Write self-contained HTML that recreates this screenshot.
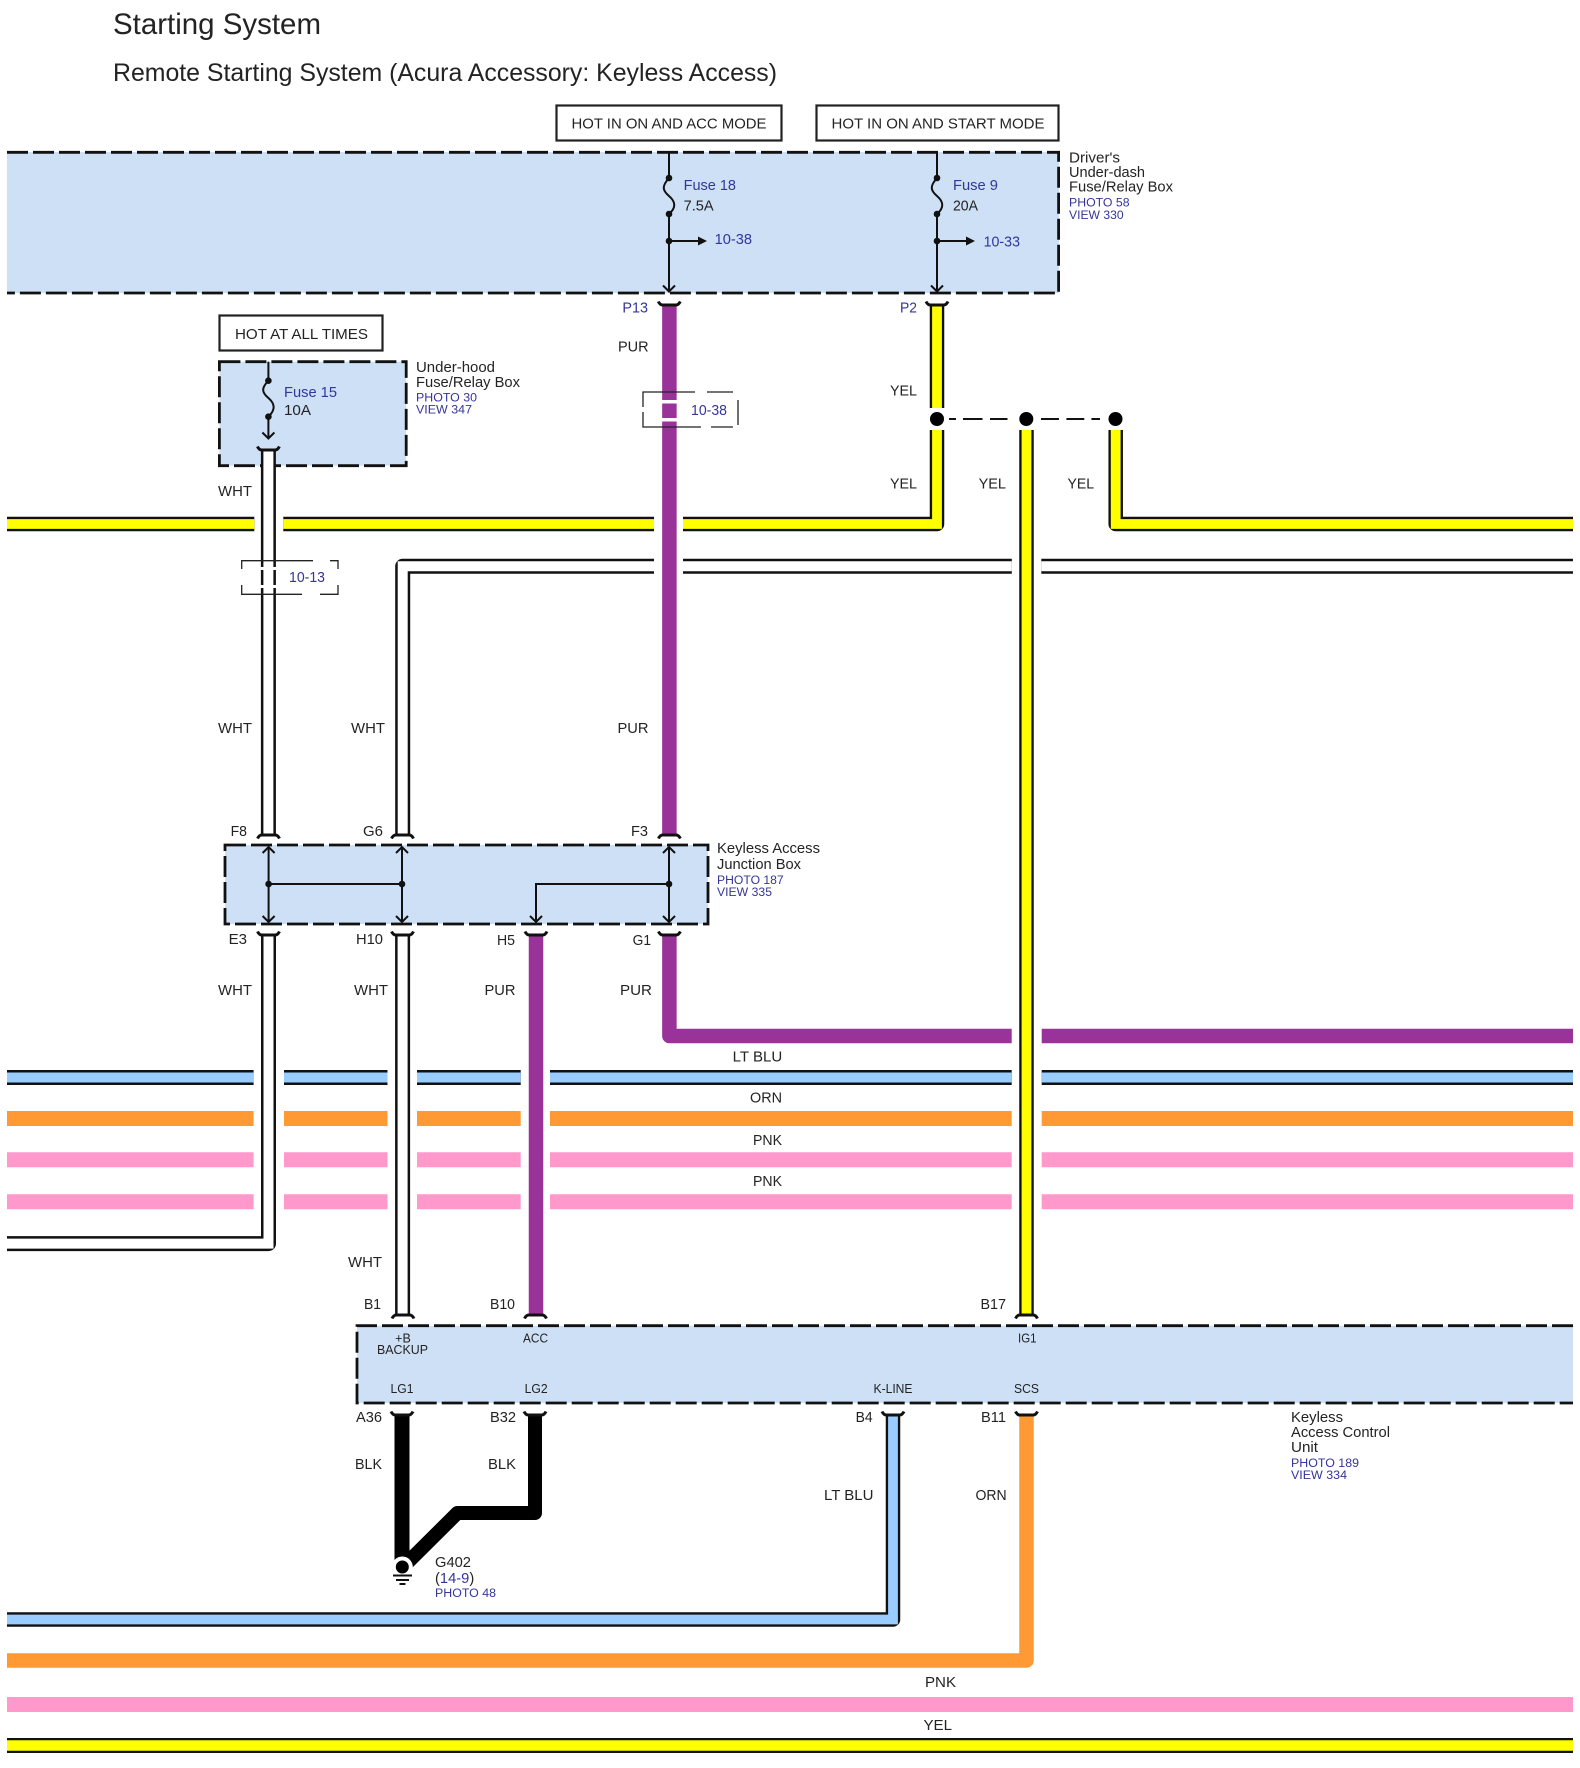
<!DOCTYPE html>
<html><head><meta charset="utf-8"><title>Starting System</title>
<style>
html,body{margin:0;padding:0;background:#fff}
svg{display:block}
text{font-family:"Liberation Sans",Arial,sans-serif;fill:#232323;font-size:14.7px}
.b{fill:#35359b}
.s{font-size:12.3px}
.m{font-size:12.5px}
.w{fill:none;stroke-linejoin:round}
.d{fill:none;stroke:#111;stroke-width:2.8;stroke-dasharray:21 5}
.l{fill:none;stroke:#111;stroke-width:2}
.br{fill:none;stroke:#222;stroke-width:1.3}
.bx{fill:#fff;stroke:#222;stroke-width:2.2}
</style></head><body>
<svg xmlns="http://www.w3.org/2000/svg" width="1580" height="1768" viewBox="0 0 1580 1768">
<defs>
<path id="arch" d="M-11 3.5Q-9 -0.5 -6 0H6Q9 -0.5 11 3.5" fill="none" stroke="#111" stroke-width="3"/>
<path id="smile" d="M-11 -3.5Q-9 0.5 -6 0H6Q9 0.5 11 -3.5" fill="none" stroke="#111" stroke-width="3"/>
</defs>
<rect width="1580" height="1768" fill="#fff"/>

<!-- titles -->
<text x="113" y="34" style="font-size:30px" textLength="208" lengthAdjust="spacingAndGlyphs">Starting System</text>
<text x="113" y="81" style="font-size:24.7px" textLength="664" lengthAdjust="spacingAndGlyphs">Remote Starting System (Acura Accessory: Keyless Access)</text>

<!-- hot boxes -->
<rect class="bx" x="556.5" y="105.5" width="225" height="35"/>
<rect class="bx" x="816.5" y="105.5" width="242" height="35"/>
<rect class="bx" x="219.5" y="315.5" width="163" height="35"/>
<text x="571.5" y="128.5" textLength="195" lengthAdjust="spacingAndGlyphs">HOT IN ON AND ACC MODE</text>
<text x="831.5" y="128.5" textLength="213" lengthAdjust="spacingAndGlyphs">HOT IN ON AND START MODE</text>
<text x="235" y="339" textLength="133" lengthAdjust="spacingAndGlyphs">HOT AT ALL TIMES</text>

<!-- component boxes -->
<rect x="7" y="152" width="1052" height="141" fill="#cde0f5"/>
<path class="d" d="M7 152.3H1058.6V293H7"/>
<rect x="219.4" y="361.7" width="186.8" height="104" fill="#cde0f5"/>
<rect class="d" x="219.4" y="361.7" width="186.8" height="104"/>
<rect x="225" y="845" width="483" height="79" fill="#cde0f5"/>
<rect class="d" x="225" y="845" width="483" height="79"/>
<rect x="357" y="1325.7" width="1216" height="77.3" fill="#cde0f5"/>
<path class="d" d="M1573 1325.7H357V1403H1573"/>

<!-- horizontal bus: LT BLU -->
<g class="w" stroke="#111" stroke-width="15">
<path d="M7 1077.5H253.6M284 1077.5H387.5M417 1077.5H520.7M550 1077.5H1011.7M1041.7 1077.5H1573"/>
</g>
<g class="w" stroke="#99ccff" stroke-width="10">
<path d="M7 1077.5H253.6M284 1077.5H387.5M417 1077.5H520.7M550 1077.5H1011.7M1041.7 1077.5H1573"/>
</g>
<path class="w" stroke="#ff9933" stroke-width="15" d="M7 1118.5H253.6M284 1118.5H387.5M417 1118.5H520.7M550 1118.5H1011.7M1041.7 1118.5H1573"/>
<path class="w" stroke="#ff99cc" stroke-width="15" d="M7 1159.8H253.6M284 1159.8H387.5M417 1159.8H520.7M550 1159.8H1011.7M1041.7 1159.8H1573"/>
<path class="w" stroke="#ff99cc" stroke-width="15" d="M7 1201.7H253.6M284 1201.7H387.5M417 1201.7H520.7M550 1201.7H1011.7M1041.7 1201.7H1573"/>
<path class="w" stroke="#ff99cc" stroke-width="15" d="M7 1704.5H1573"/>
<path class="w" stroke="#111" stroke-width="15" d="M7 1745.5H1573"/>
<path class="w" stroke="#ffff00" stroke-width="10.5" d="M7 1745.5H1573"/>

<!-- yellow wires -->
<path class="w" stroke="#111" stroke-width="14.5" d="M937 305V408M937 430V524H683M654 524H283.3M254.3 524H7M1026.5 430V1315M1115.7 430V524H1573"/>
<path class="w" stroke="#ffff00" stroke-width="9.8" style="stroke-linejoin:miter" d="M937 305V408M937 430V524H683M654 524H283.3M254.3 524H7M1026.5 430V1315M1115.7 430V524H1573"/>

<!-- white wires -->
<path class="w" stroke="#111" stroke-width="15" d="M1573 566.3H1041.3M1011.8 566.3H683M654 566.3H402.7V835M268.4 450V835M268.5 935V1243.6H7M402.6 935V1315"/>
<path class="w" stroke="#fff" stroke-width="10" style="stroke-linejoin:miter" d="M1573 566.3H1041.3M1011.8 566.3H683M654 566.3H402.7V835M268.4 450V835M268.5 935V1243.6H7M402.6 935V1315"/>
<rect x="259" y="567" width="19" height="3" fill="#fff"/>
<rect x="259" y="585" width="19" height="3" fill="#fff"/>

<!-- purple wires -->
<path class="w" stroke="#993399" stroke-width="14.5" d="M669.4 305V835M669.4 935V1036H1011.7M1041.7 1036H1573M536 935V1315"/>
<rect x="660" y="400" width="19" height="3.5" fill="#fff"/>
<rect x="660" y="418" width="19" height="3.5" fill="#fff"/>

<!-- black wires and ground -->
<path class="w" stroke="#000" stroke-width="15" d="M402 1415V1562"/>
<path class="w" stroke="#000" stroke-width="14" d="M535 1415V1513H457.4L398 1572"/>
<circle cx="402.3" cy="1567" r="10.5" fill="#fff"/>
<circle cx="402.3" cy="1567" r="6.5" fill="#000"/>
<path d="M393 1575.5H412M396 1580H409M399.5 1584H405.5" stroke="#111" stroke-width="2" fill="none"/>

<!-- lower wires -->
<path class="w" stroke="#111" stroke-width="14.5" d="M893 1415V1619.5H7"/>
<path class="w" stroke="#99ccff" stroke-width="9.8" style="stroke-linejoin:miter" d="M893 1415V1619.5H7"/>
<path class="w" stroke="#ff9933" stroke-width="14.5" d="M1026.5 1415V1660.5H7"/>

<!-- connector caps -->
<use href="#smile" x="669.3" y="305"/><use href="#smile" x="937" y="305"/><use href="#smile" x="268.4" y="450"/>
<use href="#arch" x="268.5" y="835"/><use href="#arch" x="402.5" y="835"/><use href="#arch" x="669.4" y="835"/>
<use href="#smile" x="268.5" y="935"/><use href="#smile" x="402.5" y="935"/><use href="#smile" x="536" y="935"/><use href="#smile" x="669.4" y="935"/>
<use href="#arch" x="403" y="1315"/><use href="#arch" x="535.5" y="1315"/><use href="#arch" x="1026.5" y="1315"/>
<use href="#smile" x="402" y="1415"/><use href="#smile" x="535" y="1415"/><use href="#smile" x="893" y="1415"/><use href="#smile" x="1026.5" y="1415"/>

<!-- fuses top -->
<path class="l" d="M669 152V178C662 186 662 190 669 196C676 202 676 208 669 214V291M663 285.5L669 291.5L675 285.5M669 241H699"/>
<path class="l" d="M937 152V178C930 186 930 190 937 196C944 202 944 208 937 214V291M931 285.5L937 291.5L943 285.5M937 241H967"/>
<path d="M698 236.5L707 241L698 245.5Z" fill="#111"/><path d="M966 236.5L975 241L966 245.5Z" fill="#111"/>
<g fill="#111"><circle cx="669" cy="178" r="3.3"/><circle cx="669" cy="214" r="3.3"/><circle cx="669" cy="241" r="3.3"/><circle cx="937" cy="178" r="3.3"/><circle cx="937" cy="214" r="3.3"/><circle cx="937" cy="241" r="3.3"/></g>
<!-- fuse 15 -->
<path class="l" d="M268.4 361.7V380.7C261.4 388 261.4 392 268.4 398C275.4 404 275.4 410 268.4 416.7V438M262.4 432.5L268.4 438.5L274.4 432.5"/>
<g fill="#111"><circle cx="268.4" cy="380.7" r="3.3"/><circle cx="268.4" cy="416.7" r="3.3"/></g>

<!-- junction box internals -->
<path class="l" d="M268.6 847V922M262.6 853L268.6 847L274.6 853M262.6 916L268.6 922L274.6 916"/>
<path class="l" d="M402 847V922M396 853L402 847L408 853M396 916L402 922L408 916"/>
<path class="l" d="M669 847V922M663 853L669 847L675 853M663 916L669 922L675 916"/>
<path class="l" d="M268.6 884H402M669 884H536V922M530 916L536 922L542 916"/>
<g fill="#111"><circle cx="268.6" cy="884" r="3.3"/><circle cx="402" cy="884" r="3.3"/><circle cx="669" cy="884" r="3.3"/></g>

<!-- splice -->
<path d="M949 419H956M963 419H982.5M990 419H1007.5M1041 419H1059M1066.4 419H1084.3M1091.4 419H1100" stroke="#111" stroke-width="2" fill="none"/>
<g fill="#000"><circle cx="937" cy="419" r="7"/><circle cx="1026.3" cy="419" r="7"/><circle cx="1115.5" cy="419" r="7"/></g>

<!-- reference brackets -->
<path class="br" d="M643 407V392H695M707 392H733M738 400V425M733 427H711M701 427H643V412"/>
<path class="br" d="M241.7 569V560.7H313M330 560.7H338V569M338 585V594.3H320M302 594.3H241.7V585"/>

<!-- box labels -->
<text class="b" x="683.6" y="190" textLength="52.4" lengthAdjust="spacingAndGlyphs">Fuse 18</text>
<text x="683.6" y="210.7" textLength="30" lengthAdjust="spacingAndGlyphs">7.5A</text>
<text class="b" x="714.6" y="244" textLength="37.4" lengthAdjust="spacingAndGlyphs">10-38</text>
<text class="b" x="953" y="190" textLength="45" lengthAdjust="spacingAndGlyphs">Fuse 9</text>
<text x="953" y="210.7" textLength="25" lengthAdjust="spacingAndGlyphs">20A</text>
<text class="b" x="983.6" y="246.7" textLength="36.4" lengthAdjust="spacingAndGlyphs">10-33</text>
<text x="1069" y="162.7" textLength="51" lengthAdjust="spacingAndGlyphs">Driver's</text>
<text x="1069" y="177" textLength="76" lengthAdjust="spacingAndGlyphs">Under-dash</text>
<text x="1069" y="191.7" textLength="104" lengthAdjust="spacingAndGlyphs">Fuse/Relay Box</text>
<text class="b s" x="1069" y="206.7" textLength="60.6" lengthAdjust="spacingAndGlyphs">PHOTO 58</text>
<text class="b s" x="1069" y="219" textLength="54.6" lengthAdjust="spacingAndGlyphs">VIEW 330</text>
<text class="b" x="284" y="397" textLength="53" lengthAdjust="spacingAndGlyphs">Fuse 15</text>
<text x="284" y="415" textLength="27" lengthAdjust="spacingAndGlyphs">10A</text>
<text x="416" y="372" textLength="79" lengthAdjust="spacingAndGlyphs">Under-hood</text>
<text x="416" y="387" textLength="104" lengthAdjust="spacingAndGlyphs">Fuse/Relay Box</text>
<text class="b s" x="416" y="401.7" textLength="61" lengthAdjust="spacingAndGlyphs">PHOTO 30</text>
<text class="b s" x="416" y="413.7" textLength="56" lengthAdjust="spacingAndGlyphs">VIEW 347</text>
<text x="717" y="853" textLength="103" lengthAdjust="spacingAndGlyphs">Keyless Access</text>
<text x="717" y="869" textLength="84" lengthAdjust="spacingAndGlyphs">Junction Box</text>
<text class="b s" x="717" y="884" textLength="66.7" lengthAdjust="spacingAndGlyphs">PHOTO 187</text>
<text class="b s" x="717" y="896" textLength="55" lengthAdjust="spacingAndGlyphs">VIEW 335</text>
<text x="1291" y="1422" textLength="52" lengthAdjust="spacingAndGlyphs">Keyless</text>
<text x="1291" y="1437" textLength="99" lengthAdjust="spacingAndGlyphs">Access Control</text>
<text x="1291" y="1452" textLength="27" lengthAdjust="spacingAndGlyphs">Unit</text>
<text class="b s" x="1291" y="1467" textLength="68" lengthAdjust="spacingAndGlyphs">PHOTO 189</text>
<text class="b s" x="1291" y="1479" textLength="56" lengthAdjust="spacingAndGlyphs">VIEW 334</text>
<text x="435" y="1567" textLength="36" lengthAdjust="spacingAndGlyphs">G402</text>
<text x="435" y="1583"><tspan>(</tspan><tspan class="b">14-9</tspan><tspan>)</tspan></text>
<text class="b s" x="435" y="1597" textLength="61" lengthAdjust="spacingAndGlyphs">PHOTO 48</text>
<text class="b" x="691" y="415" textLength="36" lengthAdjust="spacingAndGlyphs">10-38</text>
<text class="b" x="289" y="582" textLength="36" lengthAdjust="spacingAndGlyphs">10-13</text>

<!-- connector labels -->
<text class="b" x="622.4" y="312.7" textLength="25.6" lengthAdjust="spacingAndGlyphs">P13</text>
<text class="b" x="900" y="312.7" textLength="17" lengthAdjust="spacingAndGlyphs">P2</text>
<text x="230.6" y="836" textLength="16.4" lengthAdjust="spacingAndGlyphs">F8</text>
<text x="363" y="836" textLength="20" lengthAdjust="spacingAndGlyphs">G6</text>
<text x="631" y="836" textLength="17" lengthAdjust="spacingAndGlyphs">F3</text>
<text x="228.6" y="944" textLength="18.4" lengthAdjust="spacingAndGlyphs">E3</text>
<text x="356" y="944" textLength="27" lengthAdjust="spacingAndGlyphs">H10</text>
<text x="497" y="945" textLength="18" lengthAdjust="spacingAndGlyphs">H5</text>
<text x="632.6" y="945" textLength="18.4" lengthAdjust="spacingAndGlyphs">G1</text>
<text x="364" y="1309" textLength="17" lengthAdjust="spacingAndGlyphs">B1</text>
<text x="490" y="1309" textLength="25" lengthAdjust="spacingAndGlyphs">B10</text>
<text x="980.5" y="1309" textLength="25.5" lengthAdjust="spacingAndGlyphs">B17</text>
<text x="356" y="1422" textLength="26" lengthAdjust="spacingAndGlyphs">A36</text>
<text x="490" y="1422" textLength="26" lengthAdjust="spacingAndGlyphs">B32</text>
<text x="855.6" y="1422" textLength="17" lengthAdjust="spacingAndGlyphs">B4</text>
<text x="981" y="1422" textLength="25" lengthAdjust="spacingAndGlyphs">B11</text>

<!-- pin labels -->
<text class="m" x="403" y="1342.7" text-anchor="middle">+B</text>
<text class="m" x="377" y="1354" textLength="51" lengthAdjust="spacingAndGlyphs">BACKUP</text>
<text class="m" x="523" y="1342.7" textLength="25" lengthAdjust="spacingAndGlyphs">ACC</text>
<text class="m" x="1018" y="1342.7" textLength="18.5" lengthAdjust="spacingAndGlyphs">IG1</text>
<text class="m" x="390.5" y="1393" textLength="23" lengthAdjust="spacingAndGlyphs">LG1</text>
<text class="m" x="524.6" y="1393" textLength="23" lengthAdjust="spacingAndGlyphs">LG2</text>
<text class="m" x="873.5" y="1393" textLength="39" lengthAdjust="spacingAndGlyphs">K-LINE</text>
<text class="m" x="1014" y="1393" textLength="25" lengthAdjust="spacingAndGlyphs">SCS</text>

<!-- wire colour labels -->
<text x="618" y="351.7" textLength="30.6" lengthAdjust="spacingAndGlyphs">PUR</text>
<text x="890" y="395.7" textLength="27" lengthAdjust="spacingAndGlyphs">YEL</text>
<text x="890" y="488.3" textLength="27" lengthAdjust="spacingAndGlyphs">YEL</text>
<text x="978.6" y="488.3" textLength="27.4" lengthAdjust="spacingAndGlyphs">YEL</text>
<text x="1067.5" y="488.3" textLength="26.5" lengthAdjust="spacingAndGlyphs">YEL</text>
<text x="218" y="496" textLength="34" lengthAdjust="spacingAndGlyphs">WHT</text>
<text x="218" y="733" textLength="34" lengthAdjust="spacingAndGlyphs">WHT</text>
<text x="351" y="733" textLength="34" lengthAdjust="spacingAndGlyphs">WHT</text>
<text x="617.5" y="733" textLength="31" lengthAdjust="spacingAndGlyphs">PUR</text>
<text x="218" y="995" textLength="34" lengthAdjust="spacingAndGlyphs">WHT</text>
<text x="354" y="995" textLength="34" lengthAdjust="spacingAndGlyphs">WHT</text>
<text x="484.5" y="995" textLength="31" lengthAdjust="spacingAndGlyphs">PUR</text>
<text x="620" y="995" textLength="32" lengthAdjust="spacingAndGlyphs">PUR</text>
<text x="732.7" y="1061.7" textLength="49.6" lengthAdjust="spacingAndGlyphs">LT BLU</text>
<text x="750" y="1102.7" textLength="32" lengthAdjust="spacingAndGlyphs">ORN</text>
<text x="753" y="1145" textLength="29" lengthAdjust="spacingAndGlyphs">PNK</text>
<text x="753" y="1186" textLength="29" lengthAdjust="spacingAndGlyphs">PNK</text>
<text x="348" y="1267" textLength="34" lengthAdjust="spacingAndGlyphs">WHT</text>
<text x="355" y="1469" textLength="27" lengthAdjust="spacingAndGlyphs">BLK</text>
<text x="488" y="1469" textLength="28" lengthAdjust="spacingAndGlyphs">BLK</text>
<text x="824" y="1500" textLength="49.5" lengthAdjust="spacingAndGlyphs">LT BLU</text>
<text x="975.5" y="1500" textLength="31.2" lengthAdjust="spacingAndGlyphs">ORN</text>
<text x="925" y="1687" textLength="31" lengthAdjust="spacingAndGlyphs">PNK</text>
<text x="923.5" y="1730" textLength="28.5" lengthAdjust="spacingAndGlyphs">YEL</text>
</svg>
</body></html>
